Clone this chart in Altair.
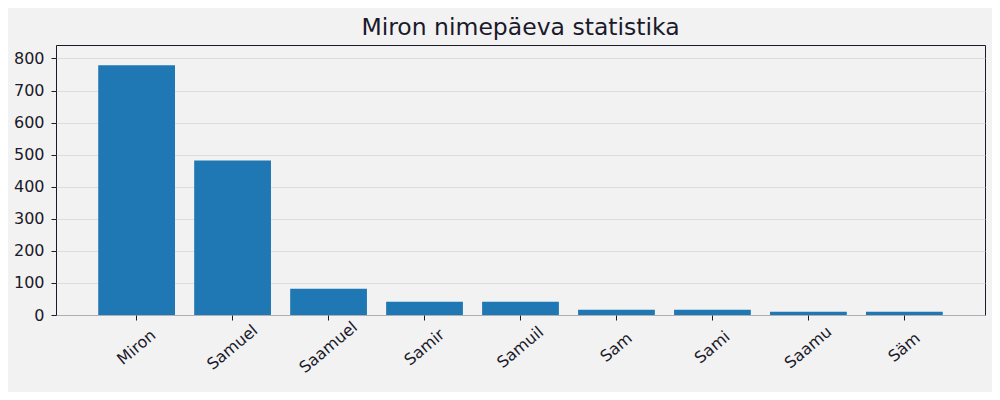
import altair as alt
import pandas as pd

names = ["Miron", "Samuel", "Saamuel", "Samir", "Samuil", "Sam", "Sami", "Saamu", "Säm"]
counts = [779, 482, 82, 41, 41, 16, 16, 10, 10]

df = pd.DataFrame({"name": names, "count": counts})

TEXT = "#1a1a2a"
FONT = "DejaVu Sans"

chart = alt.Chart(df).mark_bar(color="#1f77b4").encode(
    x=alt.X("name:N", sort=names,
            scale=alt.Scale(paddingInner=0.2, paddingOuter=0.44),
            axis=alt.Axis(title=None, labelAngle=-40, labelAlign="center",
                          labelBaseline="middle", labelPadding=27,
                          labelFontSize=16, labelColor=TEXT, labelFont=FONT,
                          tickSize=5, tickColor=TEXT, domain=False, grid=False)),
    y=alt.Y("count:Q", scale=alt.Scale(domain=[0, 842], nice=False),
            axis=alt.Axis(title=None, values=[0, 100, 200, 300, 400, 500, 600, 700, 800],
                          labelFontSize=16, labelColor=TEXT, labelFont=FONT,
                          labelPadding=7, tickSize=5, tickColor=TEXT, domain=False,
                          grid=True, gridColor="#d6d6d6", gridWidth=0.8)),
).properties(
    width=929, height=270,
    title=alt.TitleParams("Miron nimepäeva statistika", fontSize=23.5, font=FONT,
                          color=TEXT, fontWeight="normal", offset=6),
    autosize=alt.AutoSizeParams(type="none"),
    padding={"left": 48, "top": 37, "right": 7, "bottom": 77},
).configure(background="#f2f2f2").configure_view(
    stroke=TEXT, strokeWidth=1, fill="#f2f2f2"
)

chart.save("out.html", embed_options={"renderer": "svg", "actions": False})
